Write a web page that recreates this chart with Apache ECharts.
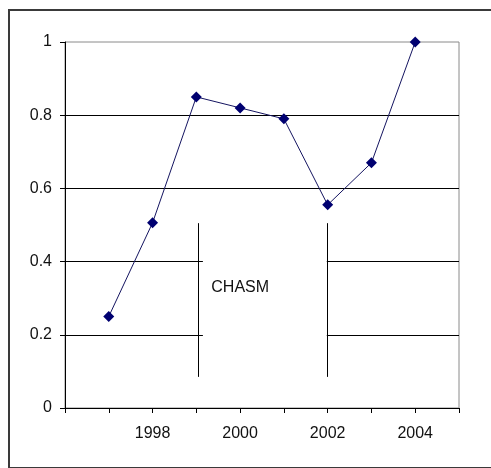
<!DOCTYPE html>
<html>
<head>
<meta charset="utf-8">
<script src="https://cdn.jsdelivr.net/npm/echarts@6/dist/echarts.min.js"></script>
<style>
html,body{margin:0;padding:0;background:#fff;overflow:hidden;}
#c{position:absolute;left:0;top:0;width:491px;height:468px;}
#frame{position:absolute;left:8px;top:9px;width:500px;height:456px;border:2px solid #3a3a3a;pointer-events:none;box-sizing:content-box;}
</style>
</head>
<body>
<div id="c"></div>
<div id="frame"></div>
<script>
// Data
const years = [1997, 1998, 1999, 2000, 2001, 2002, 2003, 2004];
const values = [0.25, 0.506, 0.85, 0.82, 0.79, 0.555, 0.67, 1.0];
const xLabelYears = [1998, 2000, 2002, 2004];
const fullGridLevels = [0.6, 0.8];
const brokenGridLevels = [0.2, 0.4];
const chasmEdges = [1999.05, 2001.98];
const chasmLineRange = [0.085, 0.505];
const chasmLeftGridEnd = 1999.15;
const chasmLabel = 'CHASM';
const chasmLabelAt = [1999.33, 0.328];
const xRange = [1996, 2005];

const lineData = [];
fullGridLevels.forEach(v => lineData.push([{coord: [xRange[0], v]}, {coord: [xRange[1], v]}]));
brokenGridLevels.forEach(v => {
  lineData.push([{coord: [xRange[0], v]}, {coord: [chasmLeftGridEnd, v]}]);
  lineData.push([{coord: [chasmEdges[1], v]}, {coord: [xRange[1], v]}]);
});
chasmEdges.forEach(x => lineData.push([{coord: [x, chasmLineRange[0]]}, {coord: [x, chasmLineRange[1]]}]));

const font = 'Liberation Sans, Arial, sans-serif';
const chart = echarts.init(document.getElementById('c'));
chart.setOption({
  animation: false,
  backgroundColor: '#fff',
  grid: {left: 65, right: 32, top: 42, bottom: 60, show: true, borderColor: '#8a8a8a', borderWidth: 1, backgroundColor: 'transparent'},
  xAxis: {
    type: 'value', min: xRange[0], max: xRange[1], interval: 1,
    axisLine: {show: true, onZero: false, lineStyle: {color: '#000', width: 1}},
    axisTick: {show: true, length: 5, lineStyle: {color: '#000'}},
    splitLine: {show: false},
    axisLabel: {
      margin: 18, color: '#111', fontSize: 16, fontFamily: font,
      formatter: v => xLabelYears.includes(Math.round(v)) ? String(Math.round(v)) : ''
    }
  },
  yAxis: {
    type: 'value', min: 0, max: 1, interval: 0.2,
    axisLine: {show: true, lineStyle: {color: '#000', width: 1}},
    axisTick: {show: true, length: 5, lineStyle: {color: '#000'}},
    splitLine: {show: false},
    axisLabel: {margin: 13, color: '#111', fontSize: 16, fontFamily: font,
      formatter: v => String(Math.round(v * 10) / 10)}
  },
  series: [{
    type: 'line',
    data: years.map((y, i) => [y, values[i]]),
    symbol: 'diamond', symbolSize: 11,
    lineStyle: {color: '#141460', width: 1},
    itemStyle: {color: '#000070'},
    z: 5,
    markLine: {
      silent: true, symbol: 'none', animation: false,
      label: {show: false},
      lineStyle: {color: '#000', width: 1, type: 'solid'},
      emphasis: {disabled: true},
      data: lineData
    },
    markPoint: {
      silent: true, animation: false,
      symbol: 'rect', symbolSize: 1,
      itemStyle: {color: 'rgba(0,0,0,0)'},
      label: {show: true, position: 'right', distance: 0, formatter: chasmLabel,
        color: '#111', fontSize: 16, fontFamily: font},
      data: [{coord: chasmLabelAt}]
    }
  }]
});
</script>
</body>
</html>
